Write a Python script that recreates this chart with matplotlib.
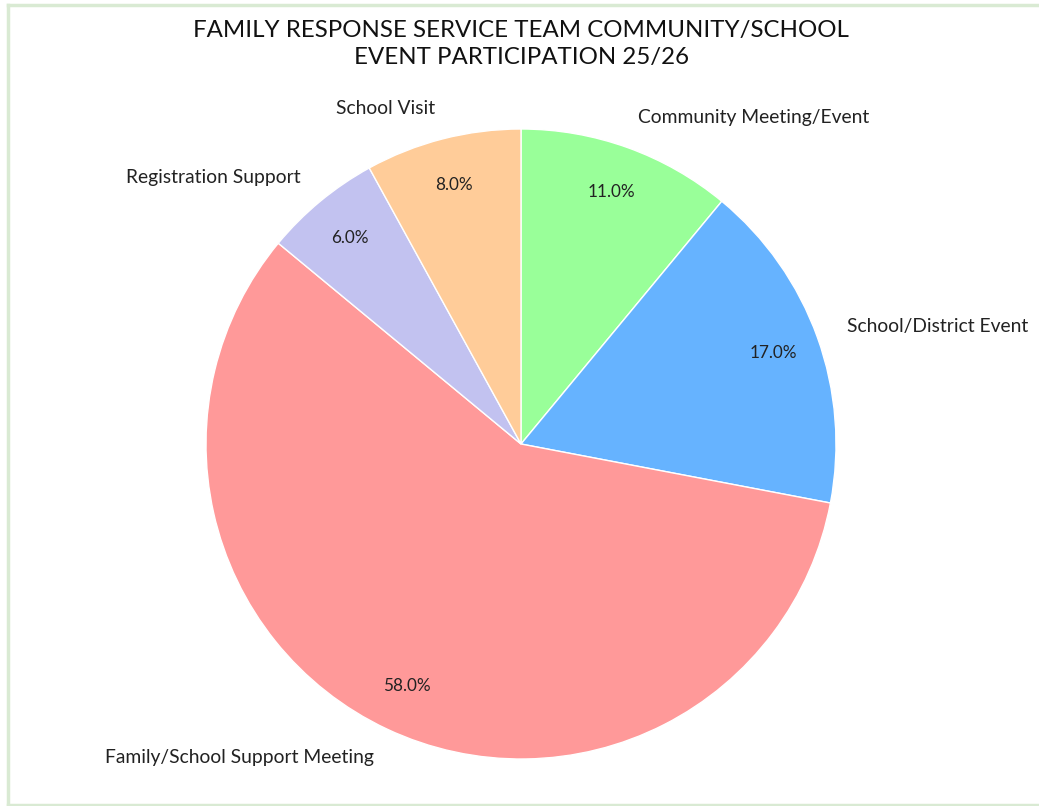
import matplotlib
matplotlib.use("Agg")
import matplotlib.pyplot as plt
from matplotlib.lines import Line2D

plt.rcParams['font.family'] = ['Lato', 'DejaVu Sans']

categories = [
    "Community Meeting/Event",
    "School/District Event",
    "Family/School Support Meeting",
    "Registration Support",
    "School Visit",
]
shares = [11, 17, 58, 6, 8]
colors = ["#99ff99", "#66b3ff", "#ff9999", "#c2c2f0", "#ffcc99"]
title = "FAMILY RESPONSE SERVICE TEAM COMMUNITY/SCHOOL\nEVENT PARTICIPATION 25/26"

W, H = 1039, 806
fig = plt.figure(figsize=(W / 100, H / 100), dpi=100)
fig.patch.set_facecolor("white")

# light green frame on the top, left and bottom edges of the card
frame = dict(color="#d9ead3", linewidth=2.5, transform=fig.transFigure)
x0, y_top, y_bot = 8 / W, 1 - 5 / H, 1.5 / H
fig.lines.append(Line2D([x0, 1.0], [y_top, y_top], **frame))
fig.lines.append(Line2D([x0, x0], [y_bot, y_top], **frame))
fig.lines.append(Line2D([x0, 1.0], [y_bot, y_bot], **frame))

cx, cy, r = 521, 444, 315
ax = fig.add_axes([(cx - r) / W, (H - cy - r) / H, 2 * r / W, 2 * r / H])
wedges, texts, autotexts = ax.pie(
    shares, labels=categories, colors=colors, startangle=90,
    counterclock=False, autopct="%1.1f%%", pctdistance=0.85,
    labeldistance=1.1, wedgeprops=dict(edgecolor="white", linewidth=1),
    textprops=dict(color="#222222", fontsize=13.9),
)
for t in autotexts:
    t.set_fontsize(12.3)
    t.set_color("#222222")
ax.set_xlim(-1, 1)
ax.set_ylim(-1, 1)
ax.set_aspect("equal")
ax.axis("off")

fig.text(cx / W, 1 - 44 / H, title, ha="center", va="center",
         fontsize=17.3, color="#111111", linespacing=1.3)

fig.savefig("out.png", dpi=100, facecolor="white")
